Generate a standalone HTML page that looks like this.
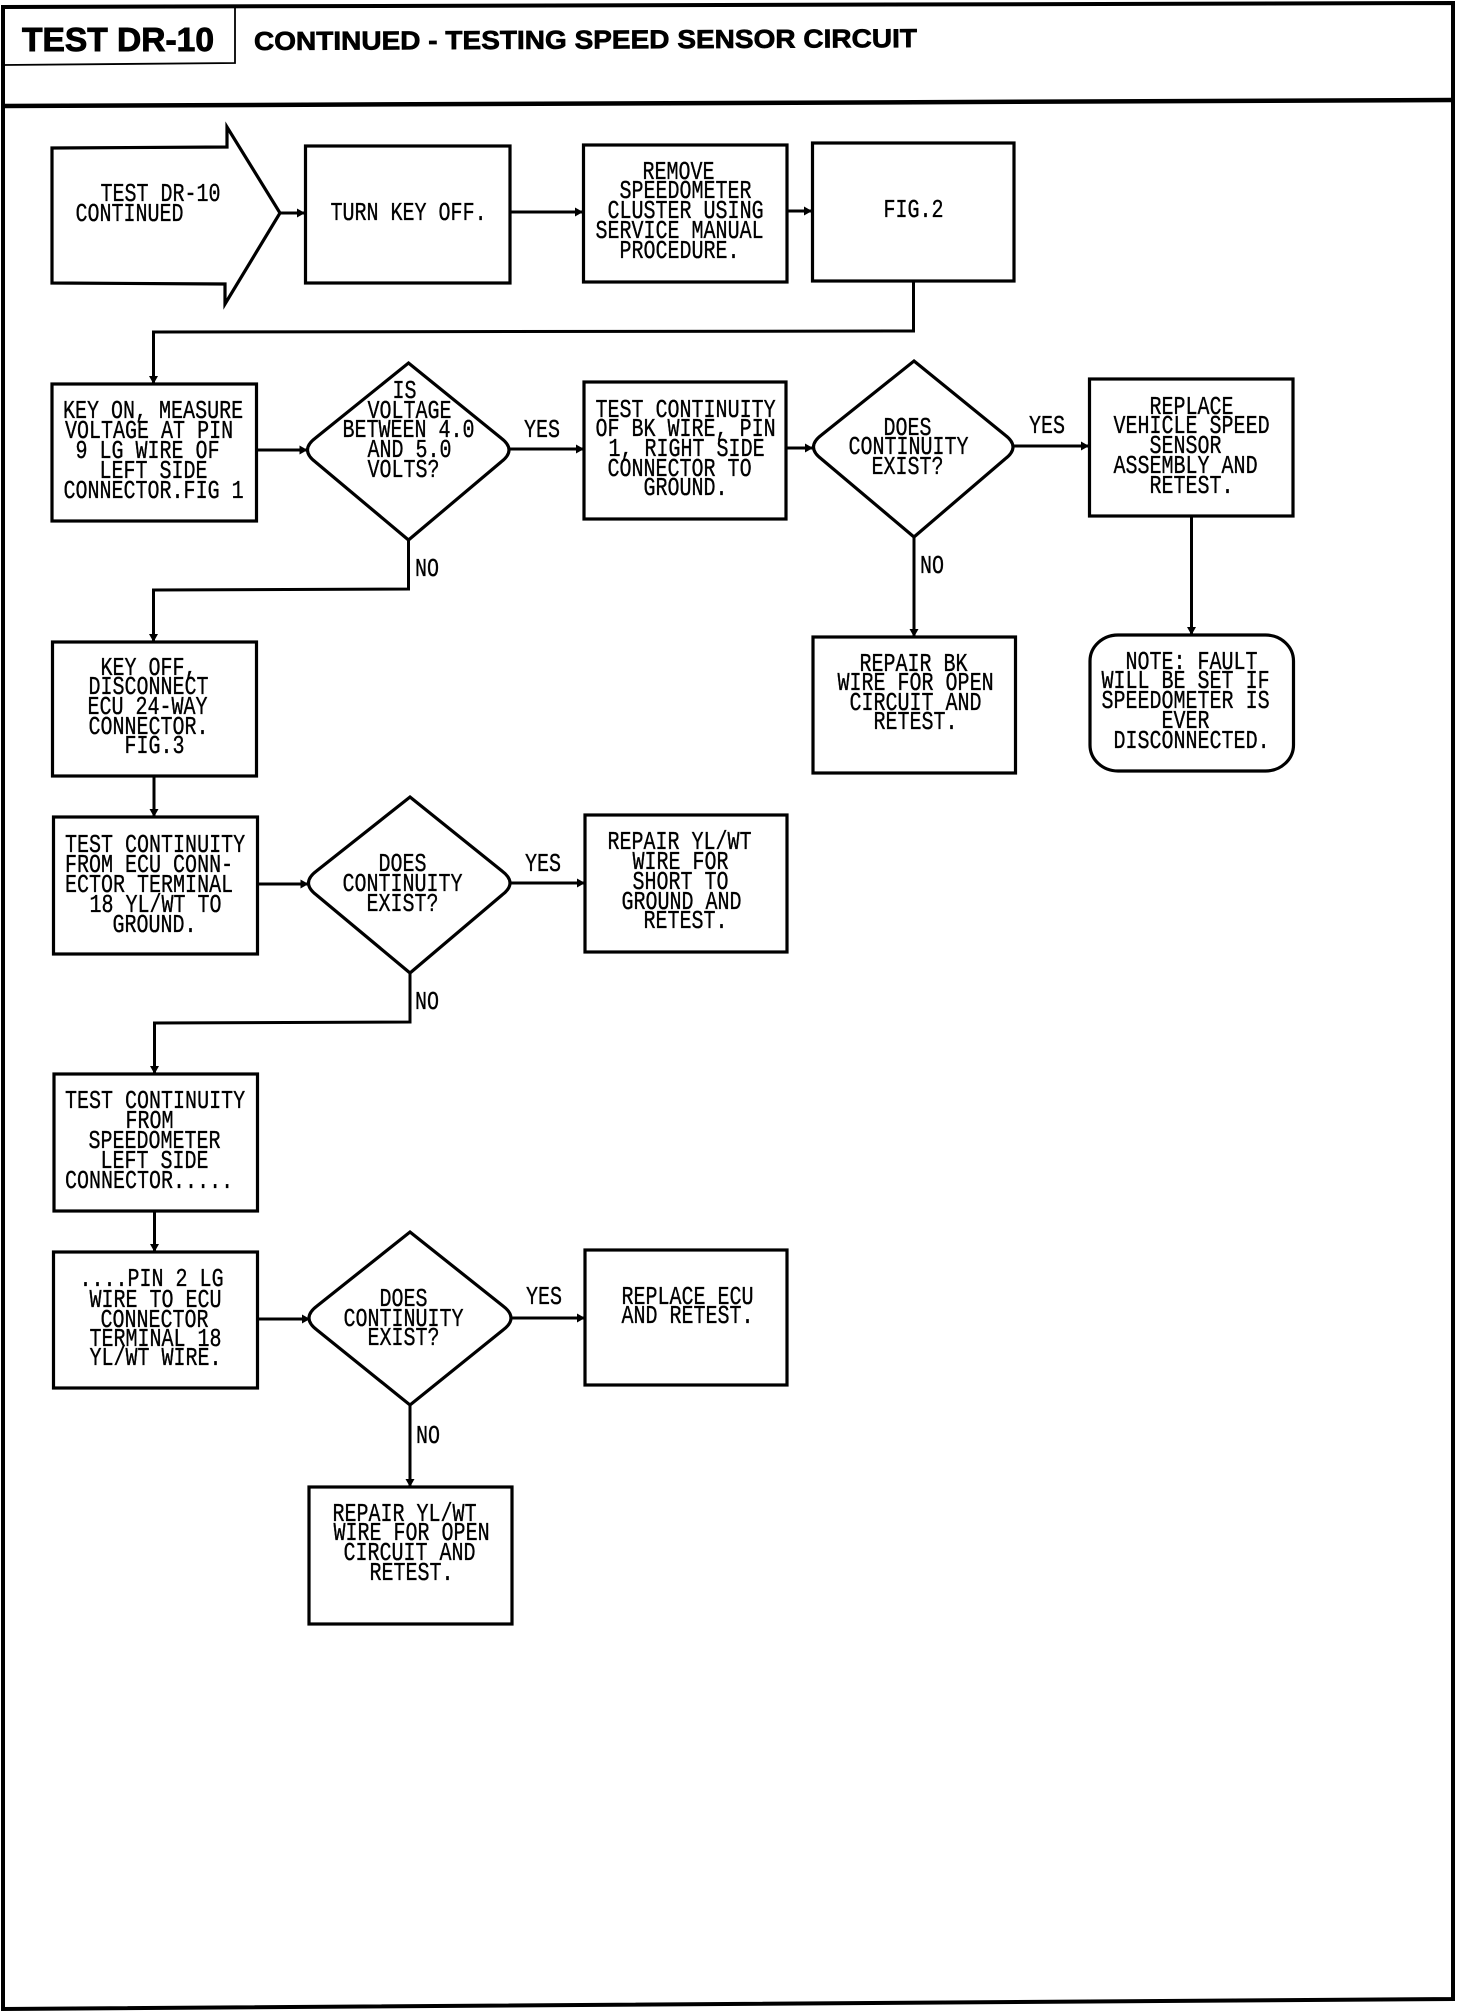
<!DOCTYPE html>
<html>
<head>
<meta charset="utf-8">
<style>
html,body{margin:0;padding:0;background:#fff}
svg{display:block}
.t{font-family:"Liberation Mono",monospace;font-size:26px;fill:#000;stroke:#000;stroke-width:.35}
.h{font-family:"Liberation Sans",sans-serif;font-weight:bold;fill:#000;stroke:#000}
.s{fill:none;stroke:#000;stroke-width:3.2;stroke-linejoin:miter}
.c{fill:none;stroke:#000;stroke-width:3}
</style>
</head>
<body>
<svg width="1472" height="2012" viewBox="0 0 1472 2012" xmlns="http://www.w3.org/2000/svg">
<defs>
<marker id="a" markerUnits="userSpaceOnUse" markerWidth="10" markerHeight="12" refX="8" refY="6" orient="auto"><path d="M0 1.5 L8 6 L0 10.5 Z" fill="#000"/></marker>
</defs>
<rect width="1472" height="2012" fill="#fff"/>
<!-- frame -->
<path d="M3 7 L1453 3 L1453 1999 L3 2009 Z" fill="none" stroke="#000" stroke-width="4"/>
<path d="M3 106 L1453 100" fill="none" stroke="#000" stroke-width="4.5"/>
<path d="M235 8 L235 63 L3 65" fill="none" stroke="#000" stroke-width="1.8"/>
<text class="h" x="22" y="51" font-size="33" stroke-width="0.9" textLength="192" lengthAdjust="spacingAndGlyphs">TEST DR-10</text>
<text class="h" x="254" y="50" font-size="26" stroke-width="0.7" textLength="663" lengthAdjust="spacingAndGlyphs" transform="rotate(-0.25 254 50)">CONTINUED - TESTING SPEED SENSOR CIRCUIT</text>

<!-- shapes -->
<path class="s" d="M52 148 L227 147 L227 127 L280 213 L225 304 L225 284 L52 283 Z"/>
<rect class="s" x="305.5" y="146" width="204.5" height="137"/>
<rect class="s" x="583.5" y="145" width="203.5" height="137"/>
<rect class="s" x="812.5" y="143" width="201.5" height="138"/>
<rect class="s" x="52" y="384" width="204.5" height="137"/>
<path class="s" d="M408.5 363 L501 438 Q517 450 501 462 L408.5 540 L315.5 462 Q299.5 450 315.5 438 Z"/>
<rect class="s" x="584" y="382" width="202" height="137"/>
<path class="s" d="M914 361 L1005 435 Q1021 447 1005 459 L914 537 L821.5 459 Q805.5 447 821.5 435 Z"/>
<rect class="s" x="1089.5" y="379" width="203.5" height="137"/>
<rect class="s" x="813" y="637" width="202.5" height="136"/>
<rect class="s" x="1090" y="635" width="203.5" height="136" rx="28" ry="26"/>
<rect class="s" x="52.5" y="642" width="204" height="134"/>
<rect class="s" x="53.5" y="817" width="204" height="137"/>
<path class="s" d="M410 797 L502 871 Q518 883 502 895 L410 973 L316.5 895 Q300.5 883 316.5 871 Z"/>
<rect class="s" x="585" y="815" width="202" height="137"/>
<rect class="s" x="54" y="1074" width="203.5" height="137"/>
<rect class="s" x="53.5" y="1252" width="204" height="136"/>
<path class="s" d="M410 1232 L503 1306 Q519 1318 503 1330 L410 1405 L317 1330 Q301 1318 317 1306 Z"/>
<rect class="s" x="585" y="1250" width="202" height="135"/>
<rect class="s" x="309" y="1487" width="203" height="137"/>

<!-- connectors -->
<path class="c" marker-end="url(#a)" d="M280 213 L305 213"/>
<path class="c" marker-end="url(#a)" d="M510 212 L583 212"/>
<path class="c" marker-end="url(#a)" d="M787 211 L812 211"/>
<path class="c" marker-end="url(#a)" d="M913.5 281 L913.5 331 L153.5 332 L153.5 384"/>
<path class="c" marker-end="url(#a)" d="M257 450 L307.5 450"/>
<path class="c" marker-end="url(#a)" d="M509 449 L584 449"/>
<path class="c" marker-end="url(#a)" d="M786 448 L813 448"/>
<path class="c" marker-end="url(#a)" d="M1013 446 L1089 446"/>
<path class="c" marker-end="url(#a)" d="M1191.5 516 L1191.5 635"/>
<path class="c" marker-end="url(#a)" d="M914 537 L914 637"/>
<path class="c" marker-end="url(#a)" d="M408.5 540 L408.5 589 L153.5 590 L153.5 642"/>
<path class="c" marker-end="url(#a)" d="M154 776 L154 817"/>
<path class="c" marker-end="url(#a)" d="M257.5 884 L308.5 884"/>
<path class="c" marker-end="url(#a)" d="M510 883 L585 883"/>
<path class="c" marker-end="url(#a)" d="M410 973 L410 1022 L154.5 1023 L154.5 1074"/>
<path class="c" marker-end="url(#a)" d="M154.5 1211 L154.5 1252"/>
<path class="c" marker-end="url(#a)" d="M257.5 1319 L310 1319"/>
<path class="c" marker-end="url(#a)" d="M511 1318 L585 1318"/>
<path class="c" marker-end="url(#a)" d="M410 1405 L410 1487"/>

<!-- text -->
<g class="t">
<text transform="translate(100.5 201) scale(.77 1)">TEST DR-10</text>
<text transform="translate(75.5 221) scale(.77 1)">CONTINUED</text>
<text transform="translate(330.5 220) scale(.77 1)">TURN KEY OFF.</text>
<text transform="translate(642.5 179) scale(.77 1)">REMOVE</text>
<text transform="translate(619.5 198) scale(.77 1)">SPEEDOMETER</text>
<text transform="translate(607.5 218) scale(.77 1)">CLUSTER USING</text>
<text transform="translate(595.5 238) scale(.77 1)">SERVICE MANUAL</text>
<text transform="translate(619.5 258) scale(.77 1)">PROCEDURE.</text>
<text transform="translate(883.5 217) scale(.77 1)">FIG.2</text>

<text transform="translate(63 418) scale(.77 1)">KEY ON, MEASURE</text>
<text transform="translate(65 438) scale(.77 1)">VOLTAGE AT PIN</text>
<text transform="translate(75.5 458) scale(.77 1)">9 LG WIRE OF</text>
<text transform="translate(99.5 478) scale(.77 1)">LEFT SIDE</text>
<text transform="translate(63.5 498) scale(.77 1)">CONNECTOR.FIG 1</text>

<text transform="translate(392.5 398) scale(.77 1)">IS</text>
<text transform="translate(367.5 418) scale(.77 1)">VOLTAGE</text>
<text transform="translate(342.5 437) scale(.77 1)">BETWEEN 4.0</text>
<text transform="translate(367.5 457) scale(.77 1)">AND 5.0</text>
<text transform="translate(367.5 477) scale(.77 1)">VOLTS?</text>
<text transform="translate(524 437) scale(.77 1)">YES</text>

<text transform="translate(595.5 417) scale(.77 1)">TEST CONTINUITY</text>
<text transform="translate(595.5 436) scale(.77 1)">OF BK WIRE, PIN</text>
<text transform="translate(608.5 456) scale(.77 1)">1, RIGHT SIDE</text>
<text transform="translate(607.5 476) scale(.77 1)">CONNECTOR TO</text>
<text transform="translate(643.5 495) scale(.77 1)">GROUND.</text>

<text transform="translate(883.5 435) scale(.77 1)">DOES</text>
<text transform="translate(848.5 454) scale(.77 1)">CONTINUITY</text>
<text transform="translate(871.5 474) scale(.77 1)">EXIST?</text>
<text transform="translate(1029 433) scale(.77 1)">YES</text>

<text transform="translate(1149.5 414) scale(.77 1)">REPLACE</text>
<text transform="translate(1113.5 433) scale(.77 1)">VEHICLE SPEED</text>
<text transform="translate(1149.5 453) scale(.77 1)">SENSOR</text>
<text transform="translate(1113.5 473) scale(.77 1)">ASSEMBLY AND</text>
<text transform="translate(1149.5 493) scale(.77 1)">RETEST.</text>

<text transform="translate(920 573) scale(.77 1)">NO</text>
<text transform="translate(859.5 671) scale(.77 1)">REPAIR BK</text>
<text transform="translate(837.5 690) scale(.77 1)">WIRE FOR OPEN</text>
<text transform="translate(849.5 710) scale(.77 1)">CIRCUIT AND</text>
<text transform="translate(873.5 729) scale(.77 1)">RETEST.</text>

<text transform="translate(1125.5 669) scale(.77 1)">NOTE: FAULT</text>
<text transform="translate(1101.5 688) scale(.77 1)">WILL BE SET IF</text>
<text transform="translate(1101.5 708) scale(.77 1)">SPEEDOMETER IS</text>
<text transform="translate(1161.5 728) scale(.77 1)">EVER</text>
<text transform="translate(1113.5 748) scale(.77 1)">DISCONNECTED.</text>

<text transform="translate(415 576) scale(.77 1)">NO</text>
<text transform="translate(100.5 675) scale(.77 1)">KEY OFF,</text>
<text transform="translate(88.5 694) scale(.77 1)">DISCONNECT</text>
<text transform="translate(87.5 714) scale(.77 1)">ECU 24-WAY</text>
<text transform="translate(88.5 734) scale(.77 1)">CONNECTOR.</text>
<text transform="translate(124.5 753) scale(.77 1)">FIG.3</text>

<text transform="translate(65 852) scale(.77 1)">TEST CONTINUITY</text>
<text transform="translate(65 872) scale(.77 1)">FROM ECU CONN-</text>
<text transform="translate(65 892) scale(.77 1)">ECTOR TERMINAL</text>
<text transform="translate(89.5 912) scale(.77 1)">18 YL/WT TO</text>
<text transform="translate(112.5 932) scale(.77 1)">GROUND.</text>

<text transform="translate(378.5 871) scale(.77 1)">DOES</text>
<text transform="translate(342.5 891) scale(.77 1)">CONTINUITY</text>
<text transform="translate(366.5 911) scale(.77 1)">EXIST?</text>
<text transform="translate(525 871) scale(.77 1)">YES</text>

<text transform="translate(607.5 849) scale(.77 1)">REPAIR YL/WT</text>
<text transform="translate(632.5 869) scale(.77 1)">WIRE FOR</text>
<text transform="translate(632.5 889) scale(.77 1)">SHORT TO</text>
<text transform="translate(621.5 909) scale(.77 1)">GROUND AND</text>
<text transform="translate(643.5 928) scale(.77 1)">RETEST.</text>

<text transform="translate(415 1009) scale(.77 1)">NO</text>
<text transform="translate(65 1108) scale(.77 1)">TEST CONTINUITY</text>
<text transform="translate(125.5 1128) scale(.77 1)">FROM</text>
<text transform="translate(88.5 1148) scale(.77 1)">SPEEDOMETER</text>
<text transform="translate(100.5 1168) scale(.77 1)">LEFT SIDE</text>
<text transform="translate(65 1188) scale(.77 1)">CONNECTOR.....</text>

<text transform="translate(79.5 1286) scale(.77 1)">....PIN 2 LG</text>
<text transform="translate(89.5 1307) scale(.77 1)">WIRE TO ECU</text>
<text transform="translate(100.5 1327) scale(.77 1)">CONNECTOR</text>
<text transform="translate(89.5 1346) scale(.77 1)">TERMINAL 18</text>
<text transform="translate(89.5 1365) scale(.77 1)">YL/WT WIRE.</text>

<text transform="translate(379.5 1306) scale(.77 1)">DOES</text>
<text transform="translate(343.5 1326) scale(.77 1)">CONTINUITY</text>
<text transform="translate(367.5 1345) scale(.77 1)">EXIST?</text>
<text transform="translate(526 1304) scale(.77 1)">YES</text>

<text transform="translate(621.5 1304) scale(.77 1)">REPLACE ECU</text>
<text transform="translate(621.5 1323) scale(.77 1)">AND RETEST.</text>

<text transform="translate(416 1443) scale(.77 1)">NO</text>
<text transform="translate(332.5 1521) scale(.77 1)">REPAIR YL/WT</text>
<text transform="translate(333.5 1540) scale(.77 1)">WIRE FOR OPEN</text>
<text transform="translate(343.5 1560) scale(.77 1)">CIRCUIT AND</text>
<text transform="translate(369.5 1580) scale(.77 1)">RETEST.</text>
</g>
</svg>
</body>
</html>
